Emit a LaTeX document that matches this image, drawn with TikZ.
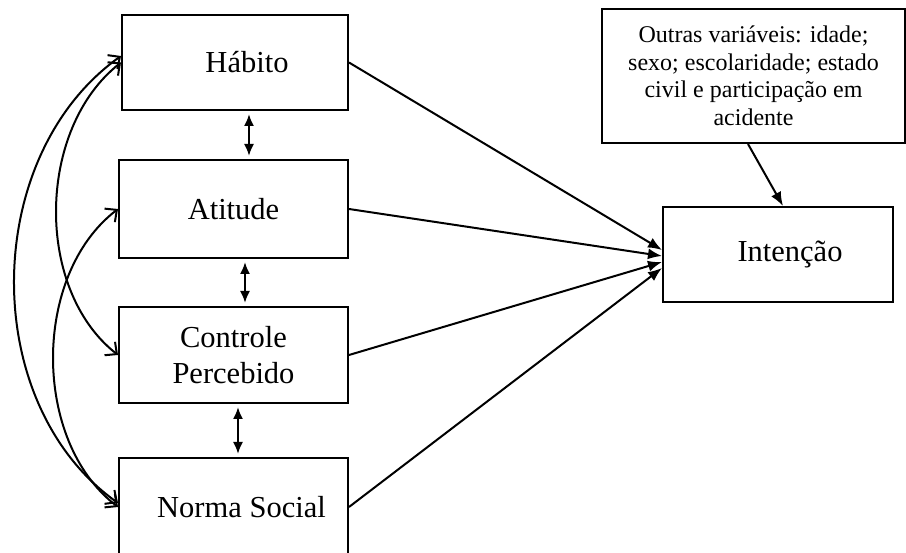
\documentclass[tikz,border=0pt]{standalone}
\usepackage{fontspec}
\setmainfont{Liberation Serif}
\usetikzlibrary{arrows.meta}

\begin{document}
\begin{tikzpicture}[x=1pt,y=-1pt,line width=2pt,
      var/.style={draw,align=center,inner sep=0pt,minimum width=229pt,minimum height=96pt,font=\fontsize{30.5}{36}\selectfont},
      obs/.style={draw,align=center,inner sep=0pt,minimum width=303pt,minimum height=134pt,font=\fontsize{24}{27.5}\selectfont},
      reg/.style={-{Latex[length=14pt,width=11pt]}},
      rel/.style={{Latex[length=12pt,width=10pt]}-{Latex[length=12pt,width=10pt]},shorten <=3pt,shorten >=3pt},
      cov/.style={{Straight Barb[length=9pt,width=17pt]}-{Straight Barb[length=9pt,width=17pt]}}]
      \useasboundingbox (0,0) rectangle (906,553);
      % predictors
      \node[var,minimum width=226pt,minimum height=95pt] (hab) at (235,62.5) {\hspace*{24pt}Hábito};
      \node[var,minimum height=98pt] (ati) at (233.5,209) {Atitude};
      \node[var] (con) at (233.5,355) {Controle\\Percebido};
      \node[var,minimum height=98pt] (nor) at (233.5,507) {\hspace*{16pt}Norma Social};
      % outcome and controls
      \node[var,minimum width=230pt,minimum height=95pt] (int) at (778,254.5) {\hspace*{24pt}Intenção};
      \node[obs] (out) at (753.5,76) {Outras variáveis: idade;\\sexo; escolaridade; estado\\civil e participação em\\acidente};
      \foreach \v/\dy in {hab/4.5,ati/-1.5,con/-7.5,nor/-13.5} \draw[reg] (\v.east)--([yshift=\dy]int.west);
      \draw[reg] ([xshift=-5.5]out.south)--([xshift=5]int.north);
      % correlations
      \draw[rel] ([xshift=14]hab.south)--([xshift=15.5]ati.north);
      \draw[rel] ([xshift=11.5]ati.south)--([xshift=11.5]con.north);
      \draw[rel] ([xshift=4.5]con.south)--([xshift=4.5]nor.north);
      \draw[cov] ([yshift=6.5]hab.west) .. controls +(-140,100) and +(-140,-100) .. ([yshift=4]nor.west);
      \draw[cov] (hab.west) .. controls +(-84,66) and +(-84,-66) .. (con.west);
      \draw[cov] (ati.west) .. controls +(-86,66) and +(-86,-66) .. (nor.west);
    \end{tikzpicture}
\end{document}
